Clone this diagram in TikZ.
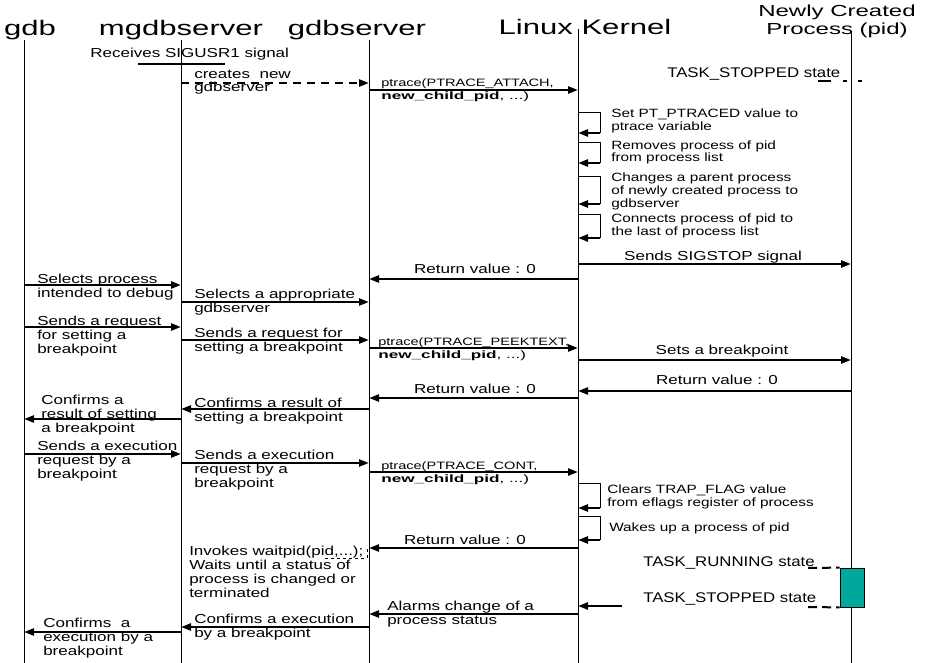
\documentclass[tikz,border=0pt]{standalone}
\usepackage{fontspec}
\setmainfont{Liberation Sans}
\usetikzlibrary{arrows.meta}
\definecolor{actfill}{RGB}{0,168,155}
\newcommand{\childpid}{\scalebox{1.18}[1]{\textbf{new\_child\_pid}, ...)}}

\begin{document}
\begin{tikzpicture}[x=1pt,y=-1pt,
    life/.style={line width=0.8pt},
    msg/.style={line width=2.3pt,-{Triangle[length=10pt,width=7pt]}},
    loopline/.style={line width=0.8pt},
    title/.style={font=\fontsize{21}{21}\selectfont,xscale=1.48,inner sep=0pt,anchor=base},
    sub/.style={font=\fontsize{16}{18}\selectfont,xscale=1.5,inner sep=0pt,anchor=base,align=center},
    txt/.style={font=\fontsize{13}{13.8}\selectfont,xscale=1.31,inner sep=0pt,anchor=base west,align=left},
    ctxt/.style={txt,anchor=base},
    note/.style={font=\fontsize{12}{13}\selectfont,xscale=1.28,inner sep=0pt,anchor=base west,align=left},
    call/.style={font=\fontsize{10.7}{13}\selectfont,xscale=1.36,inner sep=0pt,anchor=base west,align=left},
    state/.style={font=\fontsize{14}{14}\selectfont,xscale=1.2,inner sep=0pt,anchor=base west},
    statedash/.style={line width=2pt,dash pattern=on 9pt off 5pt}]
  \useasboundingbox (0,0) rectangle (925,663);

  \node[title] (gdb) at (30,36) {gdb};
  \node[title] (mgdb) at (181,36) {mgdbserver};
  \node[title] (gds) at (357,36) {gdbserver};
  \node[title] (kern) at (585,35) {Linux Kernel};
  \node[sub] (proc) at (837,35) {Newly Created\\Process (pid)};

  \coordinate (T-gdb) at (24,40);
  \coordinate (T-mgdb) at (181,40);
  \coordinate (T-gds) at (369,40);
  \coordinate (T-kern) at (578,29);
  \coordinate (T-proc) at (851,31);
  \foreach \n in {gdb,mgdb,gds,kern,proc}
    \draw[life] (T-\n) -- (T-\n |- 0,663);

  \node[txt] (sigusr) at (90,58) {Receives SIGUSR1 signal};
  \draw[line width=2.2pt] (138,64) -- (225,64);

  \draw[msg,dash pattern=on 8pt off 6pt] (T-mgdb |- 0,83) -- (T-gds |- 0,83);
  \node[txt] (create) at (194,92) {creates~~new\\gdbserver};

  \draw[msg] (T-gds |- 0,90) -- (T-kern |- 0,90);
  \node[call] (attach) at (381,100) {ptrace(PTRACE\_ATTACH,\\\childpid};

  \node[state] (stop1) at (667,78) {TASK\_STOPPED state};
  \draw[line width=2.5pt,dash pattern=on 13pt off 12pt on 4pt off 11pt on 4pt] (818,81) -- (864,81);

  \foreach \t/\b in {112/133,142/163,176/204,214/238,483/508,516/540} {
    \draw[loopline] (T-kern |- 0,\t) -- ++(22,0) coordinate (c) -- (c |- 0,\b);
    \draw[msg] (c |- 0,\b) -- (T-kern |- 0,\b);
  }
  \node[note] (n1) at (611,131) {Set PT\_PTRACED value to\\ptrace variable};
  \node[note] (n2) at (611,162) {Removes process of pid\\from process list};
  \node[note] (n3) at (611,207) {Changes a parent process\\of newly created process to\\gdbserver};
  \node[note] (n4) at (611,235) {Connects process of pid to\\the last of process list};

  \draw[msg] (T-kern |- 0,264) -- (T-proc |- 0,264);
  \node[ctxt] (sigstop) at (713,260) {Sends SIGSTOP signal};
  \draw[msg] (T-kern |- 0,279) -- (T-gds |- 0,279);
  \node[ctxt] (ret1) at (475,273) {Return value : 0};

  \draw[msg] (T-gdb |- 0,285) -- (T-mgdb |- 0,285);
  \node[txt] (sel1) at (37,297) {Selects process\\intended to debug};
  \draw[msg] (T-mgdb |- 0,302) -- (T-gds |- 0,302);
  \node[txt] (sel2) at (194,312) {Selects a appropriate\\gdbserver};

  \draw[msg] (T-gdb |- 0,327) -- (T-mgdb |- 0,327);
  \node[txt] (req1) at (37,353) {Sends a request\\for setting a\\breakpoint};
  \draw[msg] (T-mgdb |- 0,340) -- (T-gds |- 0,340);
  \node[txt] (req2) at (194,351) {Sends a request for\\setting a breakpoint};
  \draw[msg] (T-gds |- 0,348) -- (T-kern |- 0,348);
  \node[call] (peek) at (378,358) {ptrace(PTRACE\_PEEKTEXT,\\\childpid};
  \draw[msg] (T-kern |- 0,360) -- (T-proc |- 0,360);
  \node[ctxt] (setbp) at (722,354) {Sets a breakpoint};

  \draw[msg] (T-proc |- 0,391) -- (T-kern |- 0,391);
  \node[ctxt] (ret2) at (717,384) {Return value : 0};
  \draw[msg] (T-kern |- 0,398) -- (T-gds |- 0,398);
  \node[ctxt] (ret3) at (475,393) {Return value : 0};
  \draw[msg] (T-gds |- 0,409) -- (T-mgdb |- 0,409);
  \node[txt] (conf1) at (194,421) {Confirms a result of\\setting a breakpoint};
  \draw[msg] (T-mgdb |- 0,419) -- (T-gdb |- 0,419);
  \node[txt] (conf2) at (41,432) {Confirms a\\result of setting\\a breakpoint};

  \draw[msg] (T-gdb |- 0,454) -- (T-mgdb |- 0,454);
  \node[txt] (exe1) at (37,478) {Sends a execution\\request by a\\breakpoint};
  \draw[msg] (T-mgdb |- 0,463) -- (T-gds |- 0,463);
  \node[txt] (exe2) at (194,487) {Sends a execution\\request by a\\breakpoint};
  \draw[msg] (T-gds |- 0,472) -- (T-kern |- 0,472);
  \node[call] (cont) at (381,482) {ptrace(PTRACE\_CONT,\\\childpid};

  \node[note] (n5) at (607,506) {Clears TRAP\_FLAG value\\from eflags register of process};
  \node[note] (n6) at (609,531) {Wakes up a process of pid};

  \draw[msg] (T-kern |- 0,548) -- (T-gds |- 0,548);
  \node[ctxt] (ret4) at (465,544) {Return value : 0};
  \node[txt] (wait) at (189,597) {Invokes waitpid(pid,...);\\Waits until a status of\\process is changed or\\terminated};
  \draw[dashed,line width=0.8pt] (367,549) |- (323,558);

  \node[draw,fill=actfill,line width=0.8pt,minimum width=24pt,minimum height=39pt,inner sep=0pt] (act) at (852,587.5) {};
  \node[state] (run) at (643,566) {TASK\_RUNNING state};
  \draw[statedash] (808,568) -- (act.north west);
  \node[state] (stop2) at (643,602) {TASK\_STOPPED state};
  \draw[statedash] (808,607) -- (act.south west);

  \coordinate (alarm) at (622,606);
  \draw[msg] (alarm) -- (T-kern |- alarm);
  \draw[msg] (T-kern |- 0,614) -- (T-gds |- 0,614);
  \node[txt] (alarms) at (387,624) {Alarms change of a\\process status};

  \draw[msg] (T-gds |- 0,627) -- (T-mgdb |- 0,627);
  \node[txt] (conf3) at (194,637) {Confirms a execution\\by a breakpoint};
  \draw[msg] (T-mgdb |- 0,632) -- (T-gdb |- 0,632);
  \node[txt] (conf4) at (43,655) {Confirms~~a\\execution by a\\breakpoint};
\end{tikzpicture}
\end{document}
